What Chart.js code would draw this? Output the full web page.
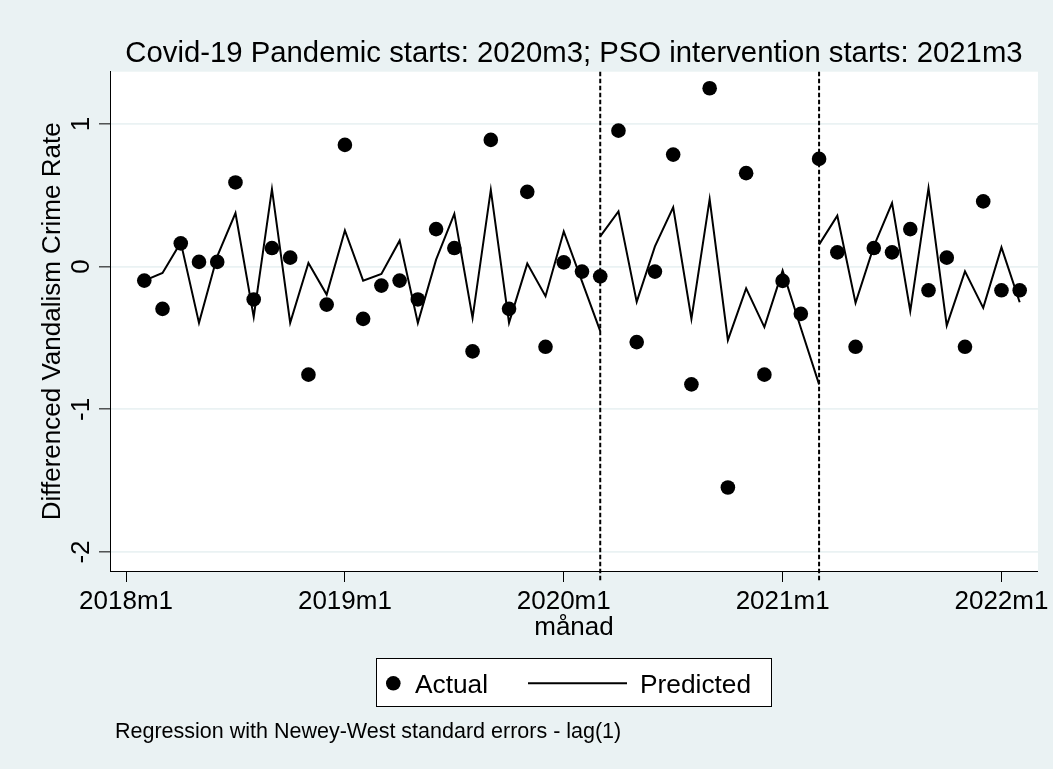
<!DOCTYPE html>
<html>
<head>
<meta charset="utf-8">
<title>Differenced Vandalism Crime Rate</title>
<script src="https://cdn.jsdelivr.net/npm/chart.js@4.4.0/dist/chart.umd.min.js"></script>
<style>
  html, body { margin: 0; padding: 0; background: #eaf2f3; }
</style>
</head>
<body>
<canvas id="itsaChart" width="1053" height="769"></canvas>
<script>
// observed months (2018m2 .. 2022m2)
const months = [
  '2018m2', '2018m3', '2018m4', '2018m5', '2018m6', '2018m7', '2018m8', '2018m9', '2018m10', '2018m11', '2018m12',
  '2019m1', '2019m2', '2019m3', '2019m4', '2019m5', '2019m6', '2019m7', '2019m8', '2019m9', '2019m10', '2019m11', '2019m12',
  '2020m1', '2020m2', '2020m3', '2020m4', '2020m5', '2020m6', '2020m7', '2020m8', '2020m9', '2020m10', '2020m11', '2020m12',
  '2021m1', '2021m2', '2021m3', '2021m4', '2021m5', '2021m6', '2021m7', '2021m8', '2021m9', '2021m10', '2021m11', '2021m12',
  '2022m1', '2022m2'
];

const actual = [
  -0.098, -0.296, 0.163, 0.033, 0.033, 0.59, -0.23, 0.13, 0.063, -0.757, -0.266,
  0.853, -0.366, -0.133, -0.098, -0.23, 0.263, 0.13, -0.594, 0.888, -0.296, 0.524, -0.562,
  0.03, -0.035, -0.068, 0.953, -0.529, -0.035, 0.785, -0.825, 1.25, -1.548, 0.655, -0.757,
  -0.1, -0.331, 0.755, 0.1, -0.562, 0.13, 0.1, 0.263, -0.166, 0.063, -0.562, 0.457,
  -0.166, -0.166
];

// predicted values, one list per period (2018m2-2020m3, 2020m3-2021m3, 2021m3-2022m2)
const predictedPre = [
  -0.098, -0.044, 0.17, -0.394, 0.072, 0.375, -0.352, 0.543, -0.394, 0.026, -0.196,
  0.254, -0.098, -0.051, 0.182, -0.394, 0.049, 0.37, -0.359, 0.538, -0.394, 0.021, -0.207,
  0.247, -0.103, -0.452
];
const predictedCovid = [0.212, 0.387, -0.247, 0.142, 0.415, -0.366, 0.473, -0.515, -0.152, -0.424, -0.028, -0.43, -0.825];
const predictedPso = [0.154, 0.357, -0.254, 0.142, 0.445, -0.312, 0.55, -0.413, -0.033, -0.289, 0.135, -0.25];

const interventions = ['2020m3', '2021m3'];

const xTickLabels = ['2018m1', '2019m1', '2020m1', '2021m1', '2022m1'];
const yTickValues = [-2, -1, 0, 1];
const yTickLabels = ['-2', '-1', '0', '1'];

const FONT = "'Liberation Sans', Arial, sans-serif";
const BG = '#eaf2f3';

// "2019m7" -> months since 2018m1
function monthIndex(label) {
  const parts = label.split('m');
  return (Number(parts[0]) - 2018) * 12 + Number(parts[1]) - 1;
}

function toPoints(labels, values) {
  return values.map((v, i) => ({ x: monthIndex(labels[i]), y: v }));
}

function lineSet(labels, values) {
  return {
    label: 'Predicted',
    data: toPoints(labels, values),
    showLine: true,
    borderColor: '#000',
    borderWidth: 2,
    pointRadius: 0,
    tension: 0,
    fill: false
  };
}

const stataLook = {
  id: 'stataLook',
  beforeDraw(chart) {
    const { ctx, chartArea } = chart;
    ctx.save();
    ctx.fillStyle = BG;
    ctx.fillRect(0, 0, chart.width, chart.height);
    ctx.fillStyle = '#fff';
    ctx.fillRect(chartArea.left, chartArea.top, chartArea.right - chartArea.left, chartArea.bottom - chartArea.top);
    ctx.restore();
  },
  afterDatasetsDraw(chart) {
    const { ctx, chartArea } = chart;
    const xs = chart.scales.x;
    ctx.save();
    ctx.strokeStyle = '#000';
    ctx.lineWidth = 2;
    ctx.setLineDash([4.5, 2.5]);
    interventions.forEach((m) => {
      const px = xs.getPixelForValue(monthIndex(m));
      ctx.beginPath();
      ctx.moveTo(px, chartArea.top);
      ctx.lineTo(px, chartArea.bottom + 11);
      ctx.stroke();
    });
    ctx.restore();
  },
  afterDraw(chart) {
    const { ctx, chartArea } = chart;
    const ys = chart.scales.y;
    ctx.save();
    ctx.fillStyle = '#000';

    // rotated y tick labels
    ctx.font = '26px ' + FONT;
    ctx.textAlign = 'center';
    ctx.textBaseline = 'middle';
    yTickValues.forEach((v, i) => {
      ctx.save();
      ctx.translate(82, ys.getPixelForValue(v));
      ctx.rotate(-Math.PI / 2);
      ctx.fillText(yTickLabels[i], 0, 0);
      ctx.restore();
    });

    // title
    ctx.textBaseline = 'alphabetic';
    ctx.font = '29.3px ' + FONT;
    ctx.fillText('Covid-19 Pandemic starts: 2020m3; PSO intervention starts: 2021m3',
      (chartArea.left + chartArea.right) / 2, 61.7);

    // legend
    ctx.fillStyle = '#fff';
    ctx.fillRect(376.5, 658.5, 395, 48);
    ctx.strokeStyle = '#000';
    ctx.lineWidth = 1;
    ctx.strokeRect(376.5, 658.5, 395, 48);
    ctx.fillStyle = '#000';
    ctx.beginPath();
    ctx.arc(393.3, 683.3, 7.3, 0, Math.PI * 2);
    ctx.fill();
    ctx.lineWidth = 2;
    ctx.beginPath();
    ctx.moveTo(528, 683.3);
    ctx.lineTo(627, 683.3);
    ctx.stroke();
    ctx.textAlign = 'left';
    ctx.font = '26.3px ' + FONT;
    ctx.fillText('Actual', 415, 692.7);
    ctx.fillText('Predicted', 640, 692.7);

    // note
    ctx.font = '21.5px ' + FONT;
    ctx.fillText('Regression with Newey-West standard errors - lag(1)', 115, 738);
    ctx.restore();
  }
};

function drawChart(canvas) {
  return new Chart(canvas, {
    type: 'scatter',
    data: {
      datasets: [
        {
          label: 'Actual',
          data: toPoints(months, actual),
          backgroundColor: '#000',
          borderWidth: 0,
          pointRadius: 7.3,
          pointHoverRadius: 7.3
        },
        lineSet(months.slice(0, 26), predictedPre),
        lineSet(months.slice(25, 38), predictedCovid),
        lineSet(months.slice(37), predictedPso)
      ]
    },
    options: {
      responsive: false,
      animation: false,
      events: [],
      layout: { padding: { left: 0, right: 14.3, top: 71.7, bottom: 126 } },
      plugins: {
        legend: { display: false },
        title: { display: false },
        tooltip: { enabled: false }
      },
      scales: {
        x: {
          type: 'linear',
          position: 'bottom',
          min: -0.88,
          max: 50,
          afterBuildTicks: (s) => {
            s.ticks = xTickLabels.map((l) => ({ value: monthIndex(l) }));
          },
          afterFit: (s) => { s.height = 72; },
          ticks: {
            callback: (v) => xTickLabels.find((l) => monthIndex(l) === v),
            font: { family: FONT, size: 26 },
            color: '#000',
            padding: 4,
            maxRotation: 0,
            autoSkip: false
          },
          grid: {
            drawOnChartArea: false,
            drawTicks: true,
            tickLength: 11,
            tickColor: '#000',
            tickWidth: 1
          },
          border: { display: true, color: '#000', width: 1 },
          title: {
            display: true,
            text: 'månad',
            color: '#000',
            font: { family: FONT, size: 26 },
            padding: { top: 0, bottom: 0 }
          }
        },
        y: {
          type: 'linear',
          position: 'left',
          min: -2.133,
          max: 1.366,
          afterBuildTicks: (s) => {
            s.ticks = yTickValues.map((v) => ({ value: v }));
          },
          afterFit: (s) => { s.width = 110; },
          ticks: { display: false },
          grid: {
            color: BG,
            lineWidth: 1.7,
            drawTicks: true,
            tickLength: 11,
            tickColor: '#000',
            tickWidth: 1
          },
          border: { display: true, color: '#000', width: 1 },
          title: {
            display: true,
            text: 'Differenced Vandalism Crime Rate',
            color: '#000',
            font: { family: FONT, size: 26 },
            padding: { top: 37, bottom: 0 }
          }
        }
      }
    },
    plugins: [stataLook]
  });
}

document.addEventListener('DOMContentLoaded', function () {
  const canvas = document.getElementById('itsaChart');
  window.itsaChart = drawChart(canvas);
});
</script>
</body>
</html>
